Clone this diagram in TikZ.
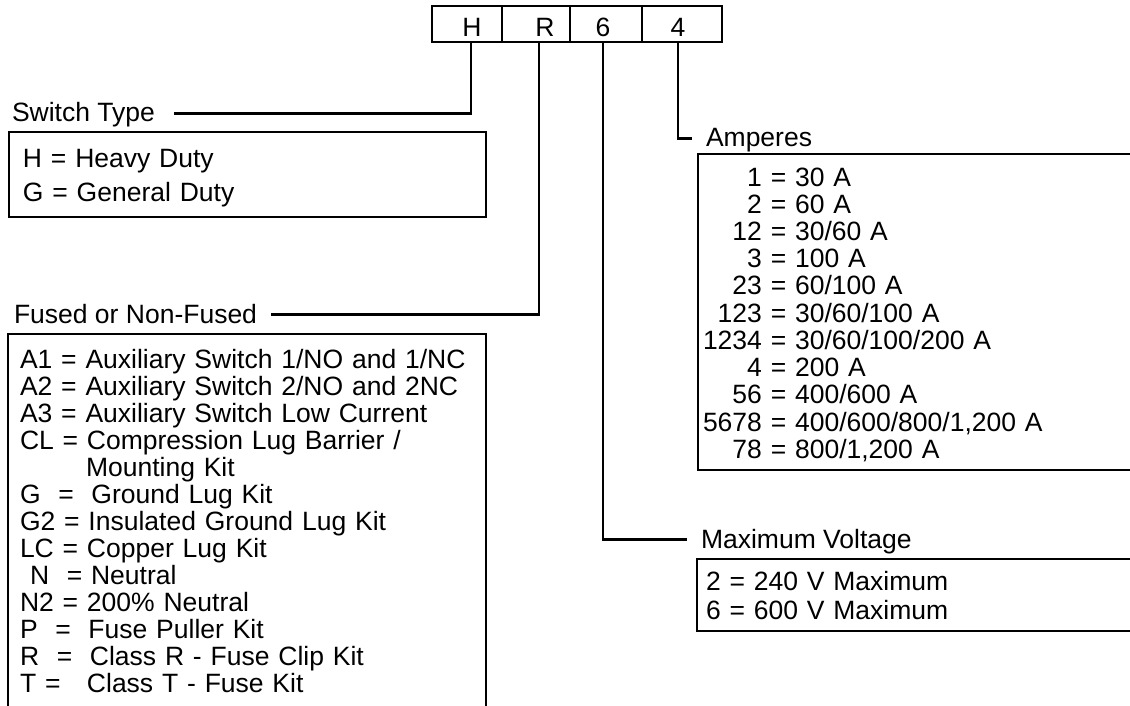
\documentclass[tikz,border=0pt]{standalone}
\usepackage{fontspec}
\setmainfont{Liberation Sans}
\usepackage{tikz}

\begin{document}
\begin{tikzpicture}[x=0.5pt,y=-0.5pt,
  txt/.style={font=\fontsize{13.25pt}{13.54pt}\selectfont, inner sep=0pt, outer sep=0pt},
  cell/.style={draw, line width=1.3pt, minimum height=18pt, inner sep=0pt, outer sep=0pt},
  code/.style={txt, anchor=base},
  head/.style={txt, anchor=base west, inner xsep=7pt, text height=8.5pt, text depth=0pt},
  box/.style={draw, line width=1.3pt, anchor=north west, inner sep=0pt, outer sep=0pt},
  list/.style={txt, anchor=base west, text width=228pt, align=left},
  wire/.style={line width=1.2pt}]

% Page
\path[use as bounding box, clip] (0,0) rectangle (1130,706);

% Catalogue number cells
\node[cell, minimum width=35pt] (cH) at (467,24) {};
\node[cell, minimum width=34pt] (cR) at (536,24) {};
\node[cell, minimum width=36pt] (c6) at (606,24) {};
\node[cell, minimum width=40pt] (c4) at (682,24) {};
\node[code] (lH) at (472,37) {H};
\node[code] (lR) at (545,37) {R};
\node[code] (l6) at (603,37) {6};
\node[code] (l4) at (678,37) {4};

% Headings
\node[head, inner xsep=9.5pt] (swtype) at (-7,122) {Switch Type};
\node[head] (fused) at (0,323) {Fused or Non-Fused};
\node[head] (amps) at (692,147) {Amperes};
\node[head] (volt) at (687,548) {Maximum Voltage};

% Option boxes
\node[box, minimum width=238.5pt, minimum height=42.5pt] (swbox) at (9,132) {};
\node[box, minimum width=239pt, minimum height=203pt] (fusedbox) at (8,334) {};
\node[box, minimum width=226pt, minimum height=158pt] (ampbox) at (698,154) {};
\node[box, minimum width=226.5pt, minimum height=36pt] (voltbox) at (697,559) {};

% Switch type
\node[list] (swlist) at (23,168) {H = Heavy Duty\\[3pt]
  G = General Duty};

% Fused or non-fused
\node[list] (fusedlist) at (20,368) {A1 = Auxiliary Switch 1/NO and 1/NC\\
  A2 = Auxiliary Switch 2/NO and 2NC\\
  A3 = Auxiliary Switch Low Current\\
  CL = Compression Lug Barrier /\\
  \hspace*{33pt}Mounting Kit\\
  G\ \ =\ \ Ground Lug Kit\\
  G2 = Insulated Ground Lug Kit\\
  LC = Copper Lug Kit\\
  \hspace*{5pt}N\ \ = Neutral\\
  N2 = 200\% Neutral\\
  P\ \ =\ \ Fuse Puller Kit\\
  R\ \ =\ \ Class R - Fuse Clip Kit\\
  T =\ \ \ Class T - Fuse Kit};

% Amperes
\node[list] (amplist) at (703,186) {\begin{tabular}[t]{@{}r@{\ =\ }l@{}}
  1 & 30 A\\
  2 & 60 A\\
  12 & 30/60 A\\
  3 & 100 A\\
  23 & 60/100 A\\
  123 & 30/60/100 A\\
  1234 & 30/60/100/200 A\\
  4 & 200 A\\
  56 & 400/600 A\\
  5678 & 400/600/800/1,200 A\\
  78 & 800/1,200 A
\end{tabular}};

% Maximum voltage
\node[list] (voltlist) at (706,590) {2 = 240 V Maximum\\[1pt]
  6 = 600 V Maximum};

% Leaders
\draw[wire] ([xshift=2pt]cH.south) |- (swtype.east);
\draw[wire] ([xshift=1.5pt]cR.south) |- (fused.east);
\draw[wire] ([xshift=-1.5pt]c6.south) |- (volt.west);
\draw[wire] ([xshift=-2pt]c4.south) |- (amps.west);

\end{tikzpicture}
\end{document}
